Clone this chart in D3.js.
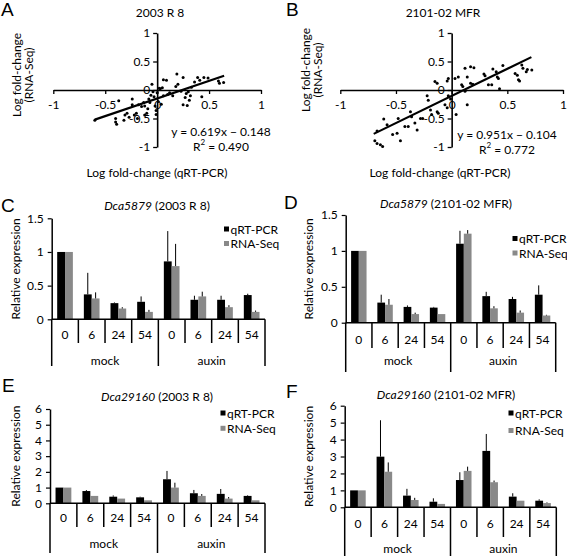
<!DOCTYPE html>
<html><head><meta charset="utf-8">
<script src="https://cdn.jsdelivr.net/npm/d3@7"></script>
<style>
body{margin:0;background:#fff}
svg{display:block}
text{font-family:Lato,'Open Sans',sans-serif;fill:#000}
.lbl{font-family:'Liberation Sans',Arial,sans-serif;font-size:19px}
</style></head><body>
<svg id="c" width="567" height="556"></svg>
<script>
// ---------- DATA ----------
const scatTicks = [-1, -0.5, 0, 0.5, 1];
const ptsA = [[-0.60,-0.53],[-0.40,-0.50],[-0.40,-0.56],[-0.39,-0.60],[-0.37,-0.19],[-0.32,-0.53],[-0.31,-0.44],[-0.29,-0.41],[-0.27,-0.48],[-0.24,-0.16],[-0.24,-0.26],[-0.22,-0.44],[-0.20,-0.41],[-0.19,-0.50],[-0.18,-0.26],[-0.15,-0.29],[-0.13,-0.22],[-0.12,-0.28],[-0.12,-0.44],[-0.10,-0.41],[-0.09,-0.33],[-0.08,-0.16],[-0.07,-0.22],[-0.06,-0.09],[-0.05,0.10],[-0.04,-0.03],[-0.03,-0.12],[-0.02,-0.28],[-0.01,-0.43],[-0.01,-0.36],[0.00,-0.05],[0.01,-0.20],[0.02,0.03],[0.03,0.02],[0.04,-0.25],[0.05,0.04],[0.06,0.18],[0.06,-0.10],[0.09,0.17],[0.10,-0.08],[0.12,-0.05],[0.15,-0.10],[0.18,0.06],[0.19,0.28],[0.20,0.10],[0.23,-0.02],[0.25,0.22],[0.25,-0.26],[0.27,-0.13],[0.28,-0.06],[0.29,-0.27],[0.30,-0.03],[0.31,-0.18],[0.32,-0.10],[0.33,0.05],[0.36,0.14],[0.39,0.22],[0.41,0.17],[0.43,-0.12],[0.45,0.22],[0.49,0.21],[0.59,0.16],[0.60,0.12],[0.64,0.13]];
const ptsB = [[-0.69,-0.89],[-0.67,-0.94],[-0.64,-0.96],[-0.62,-0.99],[-0.67,-0.72],[-0.61,-0.51],[-0.58,-0.61],[-0.53,-0.78],[-0.49,-0.76],[-0.48,-0.50],[-0.46,-0.89],[-0.42,-0.64],[-0.39,-0.64],[-0.37,-0.38],[-0.36,-0.47],[-0.33,-0.58],[-0.31,-0.70],[-0.28,-0.50],[-0.26,-0.50],[-0.22,-0.10],[-0.21,-0.18],[-0.19,-0.35],[-0.18,-0.43],[-0.13,-0.38],[-0.12,-0.41],[-0.15,0.15],[-0.13,0.12],[-0.03,0.20],[-0.06,-0.26],[-0.04,-0.31],[-0.03,-0.10],[-0.01,-0.16],[0.04,-0.43],[-0.04,0.16],[0.03,0.20],[0.06,0.23],[0.09,0.09],[0.10,0.06],[0.12,0.38],[0.14,0.23],[0.17,0.41],[0.20,0.39],[0.12,-0.02],[0.14,-0.26],[0.17,0.12],[0.19,0.10],[0.29,0.28],[0.30,0.25],[0.33,0.09],[0.36,0.09],[0.37,0.37],[0.40,0.32],[0.41,0.23],[0.42,0.20],[0.43,0.02],[0.46,0.43],[0.57,0.29],[0.59,0.26],[0.60,0.18],[0.61,0.16],[0.63,0.44],[0.64,0.38],[0.67,0.32],[0.68,0.36],[0.72,0.35]];
const fitA = [0.619, -0.148], fitRangeA = [-0.60, 0.645];
const fitB = [0.951, -0.104], fitRangeB = [-0.70, 0.716];
const eqA = ["y = 0.619x \u2212 0.148", "0.490"];
const eqB = ["y = 0.951x \u2212 0.104", "0.772"];

const timepoints = ["0", "6", "24", "54", "0", "6", "24", "54"];
const treatments = ["mock", "auxin"];
const seriesNames = ["qRT-PCR", "RNA-Seq"];
const seriesColors = ["#000000", "#898989"];

const C_qrt = [1, 0.37, 0.24, 0.26, 0.86, 0.29, 0.29, 0.36];
const C_qrtErr = [0, 0.32, 0.01, 0.08, 0.45, 0.06, 0.06, 0.02];
const C_rna = [1, 0.31, 0.16, 0.11, 0.79, 0.34, 0.18, 0.11];
const C_rnaErr = [0, 0.09, 0.02, 0.03, 0.33, 0.07, 0.03, 0.02];

const D_qrt = [1, 0.28, 0.22, 0.21, 1.10, 0.37, 0.33, 0.39];
const D_qrtErr = [0, 0.11, 0.02, 0.01, 0.18, 0.06, 0.03, 0.13];
const D_rna = [1, 0.25, 0.12, 0.12, 1.24, 0.20, 0.14, 0.10];
const D_rnaErr = [0, 0.08, 0.02, 0, 0.05, 0.03, 0.03, 0.01];

const E_qrt = [1, 0.78, 0.42, 0.38, 1.53, 0.64, 0.60, 0.47];
const E_qrtErr = [0, 0.06, 0.08, 0.04, 0.53, 0.21, 0.31, 0.04];
const E_rna = [1, 0.47, 0.30, 0.19, 1.0, 0.47, 0.30, 0.19];
const E_rnaErr = [0, 0, 0, 0, 0.31, 0.12, 0.10, 0];

const F_qrt = [1, 2.99, 0.69, 0.33, 1.61, 3.33, 0.63, 0.39];
const F_qrtErr = [0, 2.15, 0.40, 0.20, 0.46, 1.0, 0.20, 0.08];
const F_rna = [1, 2.10, 0.43, 0.20, 2.15, 1.48, 0.39, 0.25];
const F_rnaErr = [0, 0.55, 0.13, 0, 0.25, 0.10, 0, 0.04];

const ticks15 = [0, 0.5, 1, 1.5];
const ticks6 = [0, 1, 2, 3, 4, 5, 6];

// ---------- DRAW ----------
const svg = d3.select('#c');
const FS = 12;

function txt(x, y, s, anchor, size) {
  return svg.append('text').attr('x', x).attr('y', y).attr('text-anchor', anchor || 'middle')
    .attr('dominant-baseline', 'central').attr('font-size', size || FS).text(s);
}
function letter(x, y, s) {
  svg.append('text').attr('class', 'lbl').attr('x', x).attr('y', y).text(s);
}
function vlabel(x, y, s) {
  svg.append('text').attr('transform', `translate(${x},${y}) rotate(-90)`).attr('text-anchor', 'middle')
    .attr('dominant-baseline', 'central').attr('font-size', FS).text(s);
}

function scatter(o) {
  const x = d3.scaleLinear().domain([-1, 1]).range(o.xr);
  const y = d3.scaleLinear().domain([-1, 1]).range([147, 33]);
  const g = svg.append('g');
  const fmt = d => d === 0 ? '0' : String(d).replace('\u2212', '-');
  const xa = g.append('g').attr('transform', `translate(0,${y(0)})`)
    .call(d3.axisBottom(x).tickValues(scatTicks).tickFormat(fmt).tickSize(4).tickSizeOuter(0).tickPadding(6));
  const ya = g.append('g').attr('transform', `translate(${x(0)},0)`)
    .call(d3.axisLeft(y).tickValues(scatTicks).tickFormat(fmt).tickSize(4).tickSizeOuter(0).tickPadding(3));
  [xa, ya].forEach(a => {
    a.select('.domain').attr('stroke', '#000').attr('stroke-width', 1.6);
    a.selectAll('.tick line').attr('stroke', '#000').attr('stroke-width', 1.3);
    a.selectAll('text').attr('font-size', FS).attr('font-family', 'Lato,sans-serif').attr('fill', '#000');
  });
  g.selectAll('circle').data(o.pts).join('circle')
    .attr('cx', d => x(d[0])).attr('cy', d => y(d[1])).attr('r', 1.5).attr('fill', '#000');
  g.append('line')
    .attr('x1', x(o.fr[0])).attr('y1', y(o.fit[0] * o.fr[0] + o.fit[1]))
    .attr('x2', x(o.fr[1])).attr('y2', y(o.fit[0] * o.fr[1] + o.fit[1]))
    .attr('stroke', '#000').attr('stroke-width', 2.2);
  txt(o.eqX, o.eqY, o.eq[0]);
  const r = svg.append('text').attr('x', o.eqX).attr('y', o.eqY + 15).attr('text-anchor', 'middle')
    .attr('dominant-baseline', 'central').attr('font-size', FS);
  r.append('tspan').text('R');
  r.append('tspan').attr('font-size', 8).attr('dy', -4).text('2');
  r.append('tspan').attr('dy', 4).text(' = ' + o.eq[1]);
  txt(o.titleX, 12, o.title);
  txt(o.titleX - 3, 172, 'Log fold-change (qRT-PCR)');
  vlabel(o.ylx, o.yly, 'Log fold-change');
  vlabel(o.ylx + 12.5, o.yly, '(RNA-Seq)');
}

scatter({xr: [53.3, 261], pts: ptsA, fit: fitA, fr: fitRangeA, eq: eqA, eqX: 221, eqY: 131,
  title: '2003 R 8', titleX: 160, ylx: 16, yly: 75});
scatter({xr: [340.3, 563], pts: ptsB, fit: fitB, fr: fitRangeB, eq: eqB, eqX: 507, eqY: 134,
  title: '2101-02 MFR', titleX: 443, ylx: 305, yly: 70});
letter(1, 16, 'A');
letter(286, 16, 'B');

function bars(o) {
  const x = d3.scaleBand().domain(d3.range(timepoints.length)).range([o.x0, o.x1]);
  const sub = d3.scaleBand().domain([0, 1]).range([0, x.bandwidth()]).paddingOuter(0.7);
  const y = d3.scaleLinear().domain([0, o.max]).range([o.y0, o.yTop]);
  const g = svg.append('g');
  const vals = [o.qrt, o.rna], errs = [o.qrtErr, o.rnaErr];
  vals.forEach((v, s) => {
    g.selectAll(null).data(v).join('rect')
      .attr('x', (d, i) => x(i) + sub(s)).attr('width', sub.bandwidth())
      .attr('y', d => y(d)).attr('height', d => y(0) - y(d)).attr('fill', seriesColors[s]);
  });
  vals.forEach((v, s) => {
    g.selectAll(null).data(v).join('line')
      .attr('x1', (d, i) => x(i) + sub(s) + sub.bandwidth() / 2)
      .attr('x2', (d, i) => x(i) + sub(s) + sub.bandwidth() / 2)
      .attr('y1', d => y(d)).attr('y2', (d, i) => y(d + errs[s][i]))
      .attr('stroke', '#000').attr('stroke-width', 1);
  });
  const ya = g.append('g').attr('transform', `translate(${o.x0},0)`)
    .call(d3.axisLeft(y).tickValues(o.ticks).tickFormat(d => String(d)).tickSize(4).tickSizeOuter(0).tickPadding(4));
  ya.select('.domain').attr('stroke', '#000').attr('stroke-width', 1.5);
  ya.selectAll('.tick line').attr('stroke', '#000').attr('stroke-width', 1.2);
  ya.selectAll('text').attr('font-size', FS).attr('font-family', 'Lato,sans-serif').attr('fill', '#000');
  // category axis box
  g.append('line').attr('x1', o.x0).attr('x2', o.x1).attr('y1', o.y0).attr('y2', o.y0)
    .attr('stroke', '#000').attr('stroke-width', 1.5);
  const n = timepoints.length;
  for (let i = 0; i <= n; i++) {
    const xx = i === n ? o.x1 : x(i);
    const isGroup = i % 4 === 0;
    g.append('line').attr('x1', xx).attr('x2', xx).attr('y1', o.y0)
      .attr('y2', isGroup ? o.gb : o.sb).attr('stroke', '#000').attr('stroke-width', 1.5);
  }
  timepoints.forEach((t, i) => txt(x(i) + x.bandwidth() / 2, o.cy, t));
  treatments.forEach((t, k) => txt(x(k * 4) + 2 * x.bandwidth(), o.gy, t));
  // legend
  seriesNames.forEach((s, k) => {
    svg.append('rect').attr('x', o.lx).attr('y', o.ly + k * o.lstep - 2.5).attr('width', 5).attr('height', 5)
      .attr('fill', seriesColors[k]);
    txt(o.lx + 6.5, o.ly + k * o.lstep, s, 'start');
  });
  // title
  const tt = svg.append('text').attr('x', o.tx).attr('y', o.ty).attr('text-anchor', 'middle')
    .attr('dominant-baseline', 'central').attr('font-size', FS);
  tt.append('tspan').attr('font-style', 'italic').text(o.gene);
  tt.append('tspan').text(' ' + o.line);
  vlabel(o.ylx, (o.y0 + o.yTop) / 2, 'Relative expression');
}

bars({x0: 51.7, x1: 265, y0: 319.3, yTop: 218.3, max: 1.5, ticks: ticks15, sb: 343, gb: 366, cy: 334, gy: 360,
  qrt: C_qrt, qrtErr: C_qrtErr, rna: C_rna, rnaErr: C_rnaErr, lx: 224, ly: 229, lstep: 14.5,
  tx: 157, ty: 205, gene: 'Dca5879', line: '(2003 R 8)', ylx: 15});
bars({x0: 345.7, x1: 555.7, y0: 322.7, yTop: 215, max: 1.5, ticks: ticks15, sb: 348, gb: 372, cy: 339, gy: 360,
  qrt: D_qrt, qrtErr: D_qrtErr, rna: D_rna, rnaErr: D_rnaErr, lx: 512.5, ly: 238.5, lstep: 14.5,
  tx: 446, ty: 203, gene: 'Dca5879', line: '(2101-02 MFR)', ylx: 308});
bars({x0: 50, x1: 265, y0: 503.3, yTop: 409, max: 6, ticks: ticks6, sb: 527, gb: 553, cy: 517, gy: 543,
  qrt: E_qrt, qrtErr: E_qrtErr, rna: E_rna, rnaErr: E_rnaErr, lx: 220.5, ly: 413, lstep: 15.3,
  tx: 157, ty: 396, gene: 'Dca29160', line: '(2003 R 8)', ylx: 15});
bars({x0: 344.7, x1: 556.3, y0: 507.3, yTop: 405.7, max: 6, ticks: ticks6, sb: 537, gb: 556, cy: 523, gy: 548.5,
  qrt: F_qrt, qrtErr: F_qrtErr, rna: F_rna, rnaErr: F_rnaErr, lx: 508.5, ly: 413, lstep: 17.5,
  tx: 446, ty: 394, gene: 'Dca29160', line: '(2101-02 MFR)', ylx: 308});
letter(1, 212, 'C');
letter(284, 209, 'D');
letter(2, 392, 'E');
letter(286, 398, 'F');
</script></body></html>
